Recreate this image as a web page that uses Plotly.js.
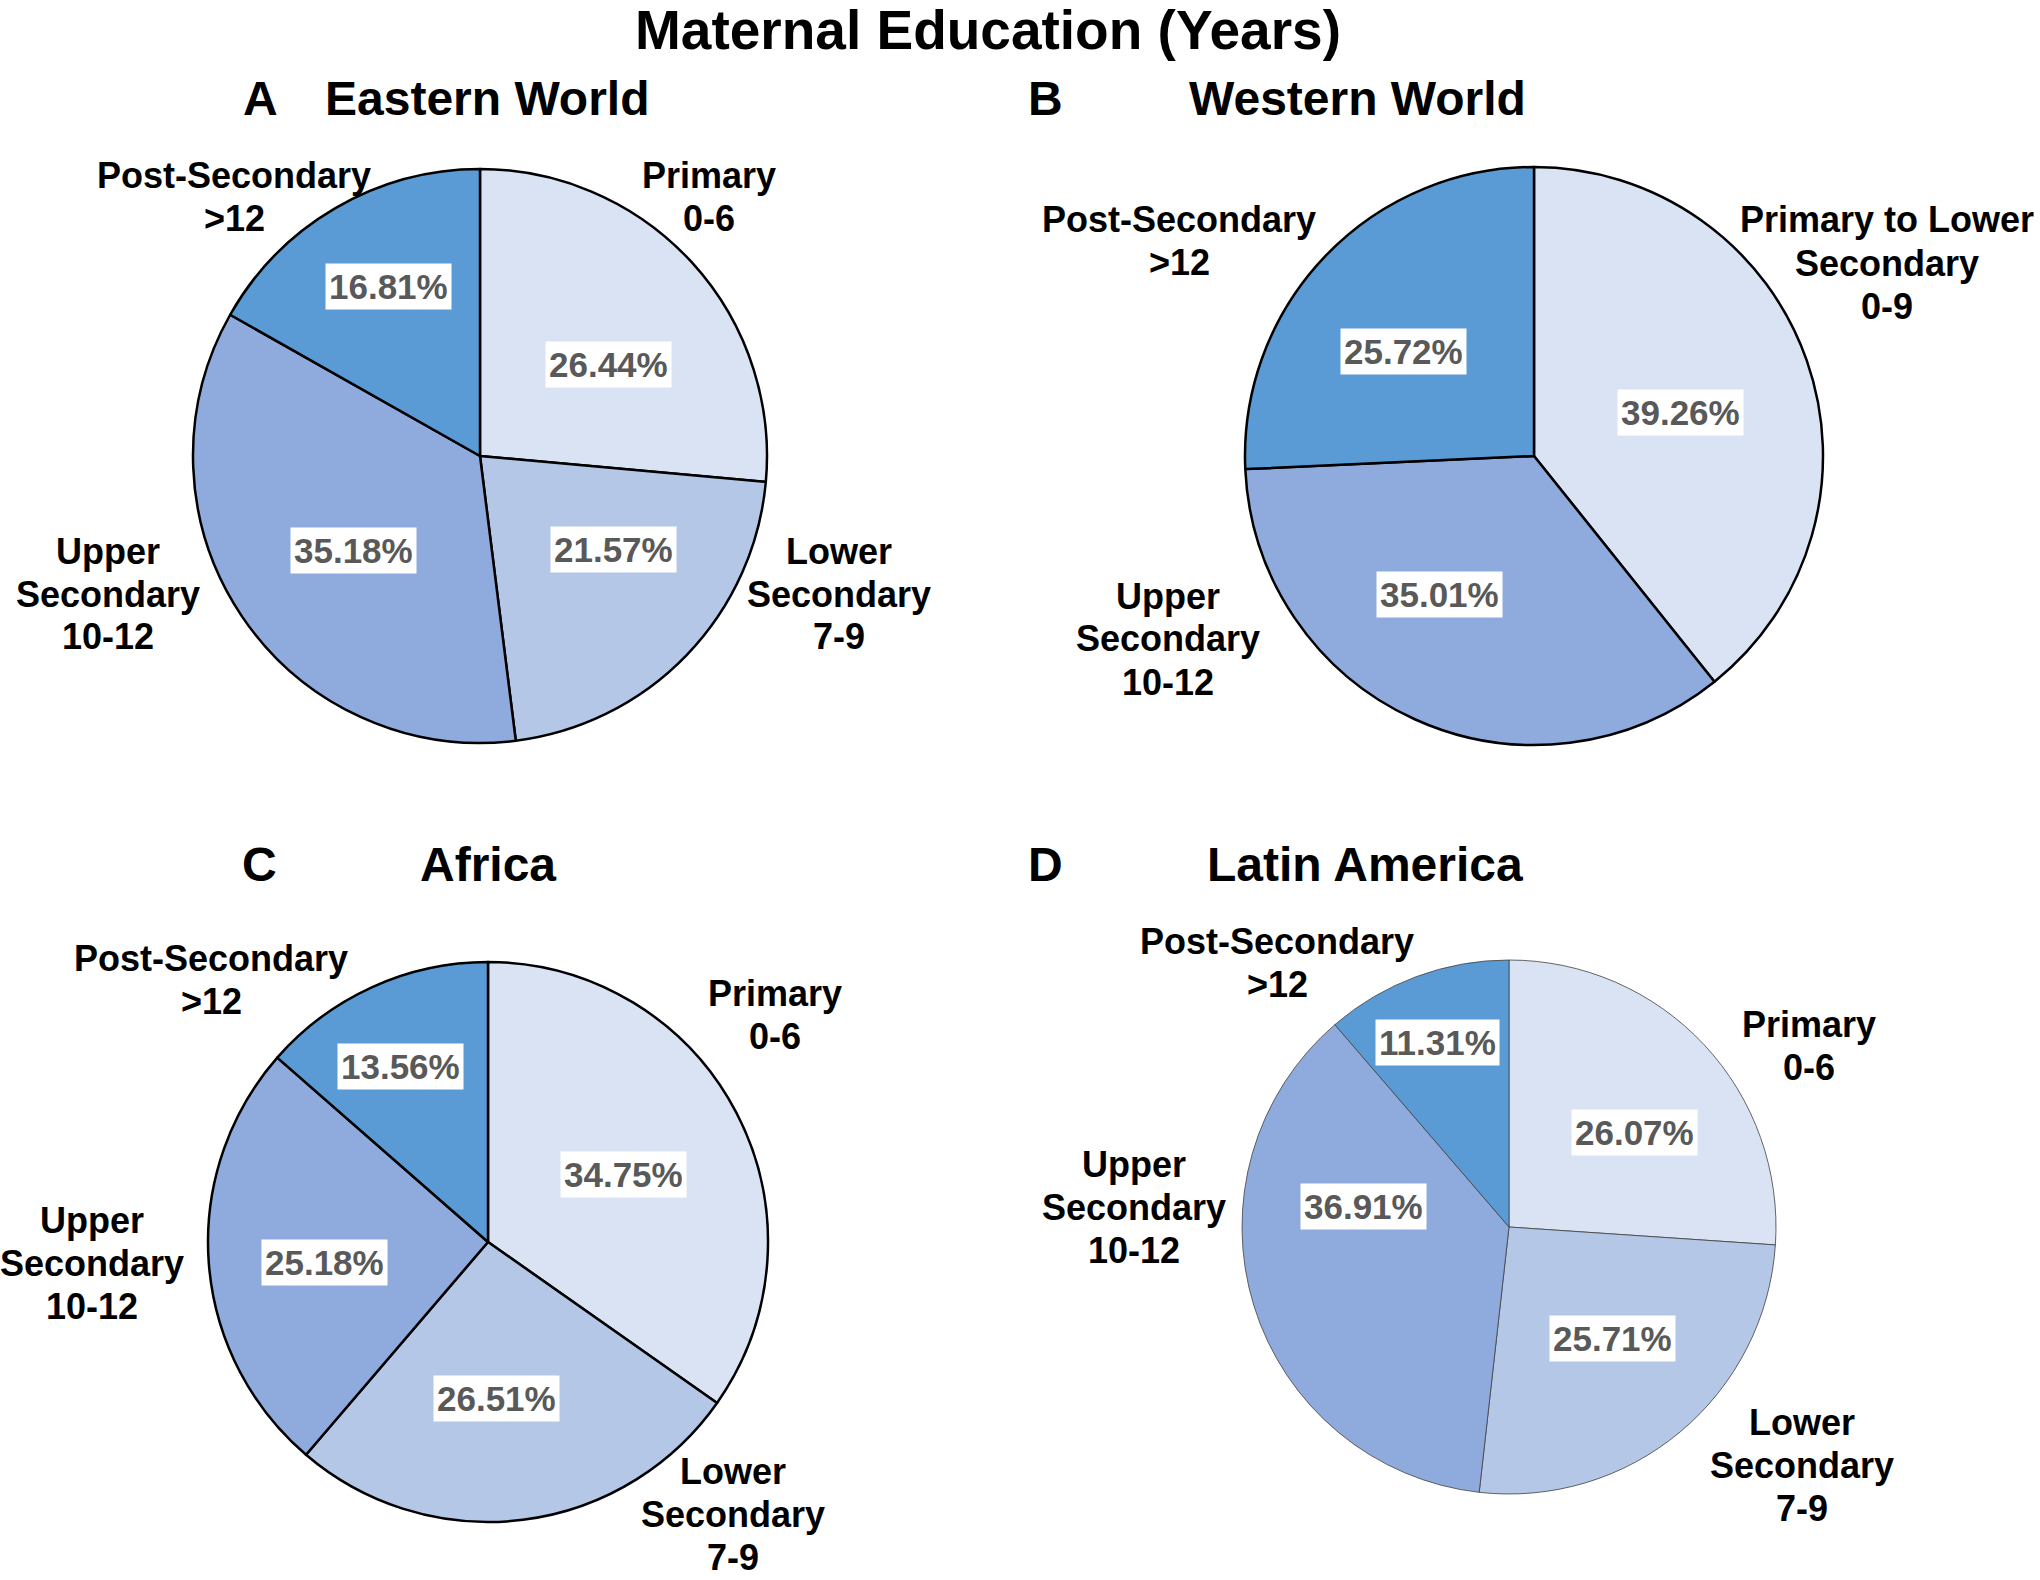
<!DOCTYPE html>
<html>
<head>
<meta charset="utf-8">
<script src="https://cdn.plot.ly/plotly-3.0.1.min.js"></script>
<style>html,body{margin:0;padding:0;background:#fff;}#chart{width:2040px;height:1580px;}</style>
</head>
<body>
<div id="chart"></div>
<script>
// ---------------- DATA ----------------
const mainTitle = 'Maternal Education (Years)';
const panelLetters = ['A', 'B', 'C', 'D'];
const panelNames = ['Eastern World', 'Western World', 'Africa', 'Latin America'];

const categoriesFour = ['Primary<br>0-6', 'Lower<br>Secondary<br>7-9', 'Upper<br>Secondary<br>10-12', 'Post-Secondary<br>&gt;12'];
const categoriesWest = ['Primary to Lower<br>Secondary<br>0-9', 'Upper<br>Secondary<br>10-12', 'Post-Secondary<br>&gt;12'];

const easternValues = [26.44, 21.57, 35.18, 16.81];
const westernValues = [39.26, 35.01, 25.72];
const africaValues  = [34.75, 26.51, 25.18, 13.56];
const latinValues   = [26.07, 25.71, 36.91, 11.31];

// ---------------- STYLE / LAYOUT ----------------
const W = 2040, H = 1580;
const FONT = 'Liberation Sans, Arial, Helvetica, sans-serif';
const colorsFour = ['#DAE3F3', '#B4C7E7', '#8FAADC', '#5B9BD5'];
const colorsWest = ['#DAE3F3', '#8FAADC', '#5B9BD5'];
const CAT_SIZE = 36, CAT_LINE = 43;

const panels = [
  { cats: categoriesFour, vals: easternValues, colors: colorsFour, cx: 480, cy: 456, r: 287,
    line: { color: '#000000', width: 2.5 },
    letterPos: [260, 98], namePos: [487, 98],
    catPos: [[709, 197], [839, 594], [108, 594], [234, 197]],
    nudge: [[7, 0.55], [-9, 0.57], [-3, 0.55], [2, 0.67]] },
  { cats: categoriesWest, vals: westernValues, colors: colorsWest, cx: 1534, cy: 456, r: 289,
    line: { color: '#000000', width: 2.5 },
    letterPos: [1045, 98], namePos: [1357, 98],
    catPos: [[1887, 263], [1168, 639], [1179, 241]],
    nudge: [[3, 0.53], [10, 0.58], [-5, 0.58]] },
  { cats: categoriesFour, vals: africaValues, colors: colorsFour, cx: 488, cy: 1242, r: 280,
    line: { color: '#000000', width: 2.5 },
    letterPos: [259, 864], namePos: [488, 864],
    catPos: [[775, 1015], [733, 1514], [92, 1263], [211, 980]],
    nudge: [[1, 0.54], [4, 0.56], [-3, 0.59], [-2, 0.70]] },
  { cats: categoriesFour, vals: latinValues, colors: colorsFour, cx: 1509, cy: 1227, r: 267,
    line: { color: '#404040', width: 0.8 },
    letterPos: [1045, 864], namePos: [1365, 864],
    catPos: [[1809, 1046], [1802, 1465], [1134, 1207], [1277, 963]],
    nudge: [[6, 0.59], [-3, 0.57], [25, 0.55], [-1, 0.74]] }
];

const px2x = p => p / W;
const px2y = p => 1 - p / H;

const traces = [];
const annotations = [];

panels.forEach((p, i) => {
  traces.push({
    type: 'pie',
    labels: p.cats.map(c => c.replace(/<br>/g, ' ')),
    values: p.vals,
    sort: false,
    direction: 'clockwise',
    rotation: 0,
    textinfo: 'none',
    hoverinfo: 'label+percent',
    showlegend: false,
    marker: { colors: p.colors, line: p.line },
    domain: {
      x: [px2x(p.cx - p.r), px2x(p.cx + p.r)],
      y: [px2y(p.cy + p.r), px2y(p.cy - p.r)]
    }
  });

  // panel letter and name
  annotations.push({
    xref: 'paper', yref: 'paper', x: px2x(p.letterPos[0]), y: px2y(p.letterPos[1]),
    xanchor: 'center', yanchor: 'middle', showarrow: false,
    text: panelLetters[i], font: { family: FONT, size: 48, color: '#000', weight: 'bold' }
  });
  annotations.push({
    xref: 'paper', yref: 'paper', x: px2x(p.namePos[0]), y: px2y(p.namePos[1]),
    xanchor: 'center', yanchor: 'middle', showarrow: false,
    text: panelNames[i], font: { family: FONT, size: 48, color: '#000', weight: 'bold' }
  });

  // category labels, one annotation per line for tight line spacing
  p.cats.forEach((c, k) => {
    const lines = c.split('<br>');
    lines.forEach((ln, j) => {
      const yy = p.catPos[k][1] + CAT_LINE * (j - (lines.length - 1) / 2);
      annotations.push({
        xref: 'paper', yref: 'paper', x: px2x(p.catPos[k][0]), y: px2y(yy),
        xanchor: 'center', yanchor: 'middle', align: 'center', showarrow: false,
        text: ln, font: { family: FONT, size: CAT_SIZE, color: '#000', weight: 'bold' }
      });
    });
  });

  // percent data labels derived from the values
  const total = p.vals.reduce((a, b) => a + b, 0);
  let cum = 0;
  p.vals.forEach((v, k) => {
    const mid = (cum + v / 2) / total * 360 + p.nudge[k][0];
    cum += v;
    const th = mid * Math.PI / 180;
    const f = p.nudge[k][1];
    const x = p.cx + f * p.r * Math.sin(th);
    const y = p.cy - f * p.r * Math.cos(th);
    annotations.push({
      xref: 'paper', yref: 'paper', x: px2x(x), y: px2y(y),
      xanchor: 'center', yanchor: 'middle', showarrow: false,
      text: v.toFixed(2) + '%', bgcolor: '#FFFFFF', borderpad: 3,
      font: { family: FONT, size: 35, color: '#595959', weight: 'bold' }
    });
  });
});

const layout = {
  width: W, height: H,
  margin: { l: 0, r: 0, t: 0, b: 0 },
  paper_bgcolor: '#FFFFFF',
  title: {
    text: mainTitle,
    font: { family: FONT, size: 55, color: '#000', weight: 'bold' },
    x: 988 / W, xanchor: 'center', xref: 'paper',
    y: 1 - 30 / H, yanchor: 'middle', yref: 'container'
  },
  annotations: annotations
};

Plotly.newPlot('chart', traces, layout, { displayModeBar: false, staticPlot: true });
</script>
</body>
</html>
